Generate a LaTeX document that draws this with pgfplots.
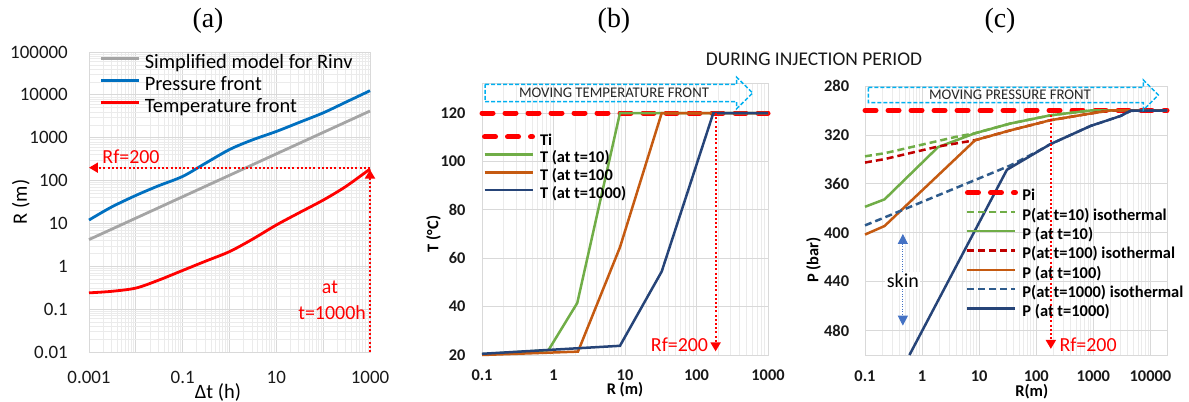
\documentclass[border=0pt]{standalone}
\usepackage{fontspec}
\setmainfont{Carlito}
\newfontfamily\serifttl{Liberation Serif}
\usepackage{pgfplots}
\pgfplotsset{compat=1.18}
\usetikzlibrary{arrows.meta}

\definecolor{cgray}{HTML}{A5A5A5}
\definecolor{cblue}{HTML}{0070C0}
\definecolor{cgreen}{HTML}{70AD47}
\definecolor{cbrown}{HTML}{C55A11}
\definecolor{cnavy}{HTML}{264478}
\definecolor{cnavyd}{HTML}{2E5B8C}
\definecolor{cdred}{HTML}{C00000}
\definecolor{cbox}{HTML}{00B0F0}
\definecolor{cskin}{HTML}{4472C4}
\definecolor{gmaj}{HTML}{D9D9D9}
\definecolor{gmin}{HTML}{EBEBEB}

\newcommand{\fsz}[1]{\fontsize{#1}{#1}\selectfont}

\tikzset{
  rdot/.style={red, line width=2bp, dash pattern=on 2bp off 2.2bp,
    -{Triangle[length=9bp,width=10bp]}},
}
\pgfplotsset{
  excel/.style={
    scale only axis, anchor=south west, clip=false,
    axis line style={draw=gmaj, line width=0.8bp},
    major grid style={draw=gmaj, line width=0.8bp},
    minor grid style={draw=gmin, line width=0.6bp},
    major tick length=0pt, minor tick length=0pt,
    /pgf/number format/assume math mode=true,
    legend cell align=left,
    legend style={draw=none, fill=none, inner sep=0pt, outer sep=0pt},
  },
}

\begin{document}
\begin{tikzpicture}[x=1bp,y=1bp]
\useasboundingbox (0,0) rectangle (1189,401);

% ---------------- (a)
\begin{axis}[excel, at={(89bp,49bp)}, width=281bp, height=300bp,
  xmode=log, ymode=log, xmin=0.001, xmax=1000, ymin=0.01, ymax=100000,
  xtick={0.001,0.01,0.1,1,10,100,1000}, xticklabels={0.001,,0.1,,10,,1000},
  ytick={0.01,0.1,1,10,100,1000,10000,100000},
  yticklabels={0.01,0.1,1,10,100,1000,10000,100000},
  minor xtick={0.002,0.003,0.004,0.005,0.006,0.007,0.008,0.009,
    0.02,0.03,0.04,0.05,0.06,0.07,0.08,0.09,0.2,0.3,0.4,0.5,0.6,0.7,0.8,0.9,
    2,3,4,5,6,7,8,9,20,30,40,50,60,70,80,90,200,300,400,500,600,700,800,900},
  minor ytick={0.02,0.03,0.04,0.05,0.06,0.07,0.08,0.09,0.2,0.3,0.4,0.5,0.6,0.7,0.8,0.9,
    2,3,4,5,6,7,8,9,20,30,40,50,60,70,80,90,200,300,400,500,600,700,800,900,
    2000,3000,4000,5000,6000,7000,8000,9000,20000,30000,40000,50000,60000,70000,80000,90000},
  grid=both,
  tick label style={font=\fsz{19}, text=black!90},
  xticklabel style={anchor=base, inner sep=0pt, yshift=-31.7bp},
  yticklabel style={anchor=east, inner sep=0pt, xshift=-21bp},
  legend style={at={(axis description cs:0.039,0.996)}, anchor=north west,
    font=\fsz{20.5}, column sep=4bp,
    nodes={inner sep=0pt, text height=15bp, text depth=7bp}},
  legend image code/.code={\path (0bp,0bp); \draw[#1] (0bp,6bp) -- (38bp,6bp);},
]
\addplot[cgray, line width=2.8bp] coordinates {(0.001,4.2) (1000,4200)};
\addlegendentry{Simplified model for Rinv}
\addplot[cblue, line width=2.8bp, smooth, tension=0.5] coordinates {
  (0.001,12) (0.003,24) (0.01,45) (0.03,75) (0.1,125) (0.3,250) (1,530)
  (3,880) (10,1400) (30,2250) (100,3800) (300,6700) (1000,12500)};
\addlegendentry{Pressure front}
\addplot[red, line width=2.8bp, smooth, tension=0.5] coordinates {
  (0.001,0.24) (0.003,0.26) (0.01,0.31) (0.03,0.47) (0.1,0.8) (0.3,1.3)
  (1,2.2) (3,4.2) (10,9.2) (30,17.5) (100,35) (300,72) (1000,186)};
\addlegendentry{Temperature front}
\draw[rdot] (axis cs:1000,200) -- (axis cs:0.001,200);
\draw[rdot] (axis cs:1000,0.01) -- (axis cs:1000,180);
\node[red, font=\fsz{20}] at (axis cs:0.0079,355) {Rf=200};
\node[red, font=\fsz{20}] at (axis cs:140,0.33) {at};
\node[red, font=\fsz{20}] at (axis cs:155,0.081) {t=1000h};
\end{axis}

% ---------------- (b)
\begin{axis}[excel, at={(482bp,46bp)}, width=286bp, height=272bp,
  xmode=log, xmin=0.1, xmax=1000, ymin=20, ymax=132.4,
  xtick={0.1,1,10,100,1000}, xticklabels={0.1,1,10,100,1000},
  ytick={20,40,60,80,100,120},
  minor xtick={0.2,0.3,0.4,0.5,0.6,0.7,0.8,0.9,2,3,4,5,6,7,8,9,
    20,30,40,50,60,70,80,90,200,300,400,500,600,700,800,900},
  xmajorgrids, xminorgrids, ymajorgrids,
  tick label style={font=\bfseries\fsz{16.4}, text=black!90},
  xticklabel style={anchor=base, inner sep=0pt, yshift=-25.75bp},
  yticklabel style={anchor=east, inner sep=0pt, xshift=-16.3bp},
  legend style={at={(axis description cs:0,0.816)}, anchor=north west,
    font=\bfseries\fsz{16.4}, column sep=5bp,
    nodes={inner sep=0pt, text height=12bp, text depth=5.7bp}},
  legend image code/.code={\path (0bp,0bp); \draw[#1] (0bp,5bp) -- (48bp,5bp);},
]
\addplot[red, line width=5bp, dash pattern=on 11bp off 12bp, line cap=round]
  coordinates {(0.1,120) (1000,120)};
\addlegendentry{Ti}
\addplot[cgreen, line width=2.5bp] coordinates {
  (0.1,20.3) (0.85,22) (2.15,41.5) (8.5,120) (1000,120)};
\addlegendentry{T (at t=10)}
\addplot[cbrown, line width=2.5bp] coordinates {
  (0.1,20) (2.2,21.4) (8.5,64.5) (32.6,120) (1000,120)};
\addlegendentry{T (at t=100}
\addplot[cnavy, line width=2.5bp] coordinates {
  (0.1,20.5) (8.5,23.8) (32.6,54.5) (172,120) (1000,120)};
\addlegendentry{T (at t=1000)}
\draw[rdot] (axis cs:185,120) -- (axis cs:185,21.5);
\node[red, font=\fsz{20}, anchor=east, inner sep=0pt] at (axis cs:146,24.4) {Rf=200};
\end{axis}

% ---------------- (c)
\begin{axis}[excel, at={(865bp,46bp)}, width=302bp, height=269bp,
  xmode=log, xmin=0.1, xmax=19500, ymin=280, ymax=500, y dir=reverse,
  xtick={0.1,1,10,100,1000,10000}, xticklabels={0.1,1,10,100,1000,10000},
  ytick={280,320,360,400,440,480},
  minor xtick={0.2,0.3,0.4,0.5,0.6,0.7,0.8,0.9,2,3,4,5,6,7,8,9,
    20,30,40,50,60,70,80,90,200,300,400,500,600,700,800,900,
    2000,3000,4000,5000,6000,7000,8000,9000},
  xmajorgrids, xminorgrids, ymajorgrids,
  tick label style={font=\bfseries\fsz{16.5}, text=black!90},
  xticklabel style={anchor=base, inner sep=0pt, yshift=-26.75bp},
  yticklabel style={anchor=east, inner sep=0pt, xshift=-15.7bp},
  legend style={at={(axis description cs:0.331,0.621)}, anchor=north west,
    font=\bfseries\fsz{16.5}, column sep=4.5bp,
    nodes={inner sep=0pt, text height=13bp, text depth=6.3bp}},
  legend image code/.code={\path (0bp,0bp); \draw[#1] (0bp,5bp) -- (48bp,5bp);},
]
\addplot[red, line width=5bp, dash pattern=on 11bp off 12bp, line cap=round]
  coordinates {(0.1,300) (19500,300)};
\addlegendentry{Pi}
\addplot[cgreen, line width=2.5bp, dash pattern=on 7bp off 4bp] coordinates {
  (0.1,337.5) (0.22,335) (4,321.5) (8.5,318.6) (35,310.7) (176,304) (900,300) (19500,300)};
\addlegendentry{P(at t=10) isothermal}
\addplot[cgreen, line width=2.5bp] coordinates {
  (0.1,378.8) (0.22,372.7) (1.9,330) (8.5,318.6) (35,310.7) (176,304) (900,300) (19500,300)};
\addlegendentry{P (at t=10)}
\addplot[cdred, line width=2.5bp, dash pattern=on 7bp off 4bp] coordinates {
  (0.1,342.6) (0.22,339.8) (1.9,329.5) (8.5,324.3) (35,316.3) (176,308) (890,302.5) (2000,300) (19500,300)};
\addlegendentry{P(at t=100) isothermal}
\addplot[cbrown, line width=2.5bp] coordinates {
  (0.1,401.5) (0.22,394.5) (8.5,324.3) (35,316.3) (176,308) (890,302.5) (2000,300) (19500,300)};
\addlegendentry{P (at t=100)}
\addplot[cnavyd, line width=2.5bp, dash pattern=on 7bp off 4bp] coordinates {
  (0.1,394) (0.22,387.5) (35,345) (110,333) (176,327.6) (890,312.7) (3000,304.5) (4500,300.4) (19500,300)};
\addlegendentry{P(at t=1000) isothermal}
\addplot[cnavy, line width=2.5bp] coordinates {
  (0.6,500) (30.6,348.5) (176,327.6) (890,312.7) (3000,304.5) (4500,300.2) (19500,300)};
\addlegendentry{P (at t=1000)}
\draw[rdot] (axis cs:180,300) -- (axis cs:180,495);
\node[red, font=\fsz{20}, anchor=west, inner sep=0pt] at (axis cs:253,492) {Rf=200};
\draw[cskin, line width=1bp, dash pattern=on 1bp off 1.5bp,
  {Triangle[length=10bp,width=10bp]}-{Triangle[length=10bp,width=10bp]}]
  (axis cs:0.46,401) -- (axis cs:0.46,476);
\node[fill=white, inner sep=1.5bp, font=\fsz{20}] at (axis cs:0.46,439) {skin};
\end{axis}

% ---------------- titles, labels, boxes
\node[font=\serifttl\fsz{28}] at (208,380) {(a)};
\node[font=\serifttl\fsz{28}] at (614,380) {(b)};
\node[font=\serifttl\fsz{28}] at (1000,380) {(c)};
\node[rotate=90, font=\fsz{20.5}] at (20.7,199) {R (m)};
\node[font=\fsz{20.5}] at (218,9) {Δt (h)};
\node[rotate=90, font=\bfseries\fsz{16.4}] at (433.5,167) {T (°C)};
\node[font=\bfseries\fsz{16.4}] at (625,11) {R (m)};
\node[rotate=90, font=\bfseries\fsz{16.5}] at (813.5,141) {P (bar)};
\node[font=\bfseries\fsz{16.5}] at (1031.7,9.3) {R(m)};
\node[font=\fsz{19.5}, text=black!90] at (814,342) {DURING INJECTION PERIOD};

\draw[cbox, line width=1.5bp, dash pattern=on 4bp off 2bp]
  (485,316.7) -- (736.7,316.7) -- (736.7,323.7) -- (752.7,308)
  -- (736.7,292.3) -- (736.7,299.3) -- (485,299.3) -- cycle;
\node[font=\fsz{14.8}, text=black!85] at (614,308) {MOVING TEMPERATURE FRONT};
\draw[cbox, line width=1.5bp, dash pattern=on 4bp off 2bp]
  (868.3,313.7) -- (1143.3,313.7) -- (1143.3,321) -- (1158.3,306)
  -- (1143.3,291) -- (1143.3,298.3) -- (868.3,298.3) -- cycle;
\node[font=\fsz{14.8}, text=black!85] at (1010,306) {MOVING PRESSURE FRONT};
\end{tikzpicture}
\end{document}
